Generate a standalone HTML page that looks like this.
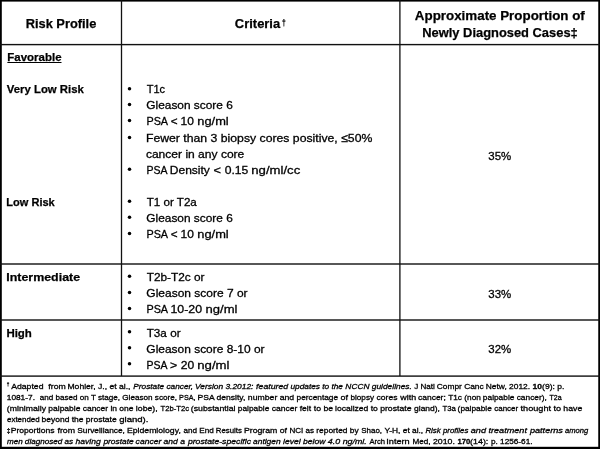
<!DOCTYPE html>
<html><head><meta charset='utf-8'><title>Risk Profile Table</title><style>
html,body{margin:0;padding:0;background:#fff;}
body{width:600px;height:449px;position:relative;overflow:hidden;font-family:"Liberation Sans",sans-serif;color:#000;}
#w{position:absolute;left:0;top:0;width:600px;height:449px;will-change:transform;}
.t{position:absolute;left:0;top:0;white-space:pre;transform-origin:0 0;line-height:1;}
svg{position:absolute;left:0;top:0;}
.u{text-decoration:underline;text-decoration-thickness:1px;text-underline-offset:1px;}
</style></head><body>
<svg width='600' height='449' viewBox='0 0 600 449'><g fill='#000'><rect x='0' y='0' width='600' height='1.6'/><rect x='0' y='446.8' width='600' height='2.2'/><rect x='0' y='0' width='1.8' height='449'/><rect x='598.25' y='0' width='1.75' height='449'/></g><g fill='#111'><rect x='0' y='43.90' width='600' height='1.4'/><rect x='0' y='263.30' width='600' height='1.4'/><rect x='0' y='319.30' width='600' height='1.4'/><rect x='0' y='375.40' width='600' height='1.4'/><rect x='120.85' y='0' width='1.3' height='376'/><rect x='399.25' y='0' width='1.3' height='376'/></g><g fill='#000'><circle cx='129.5' cy='88.70' r='1.75'/><circle cx='129.5' cy='104.60' r='1.75'/><circle cx='129.5' cy='120.50' r='1.75'/><circle cx='129.5' cy='137.40' r='1.75'/><circle cx='129.5' cy='169.30' r='1.75'/><circle cx='129.5' cy='201.30' r='1.75'/><circle cx='129.5' cy='217.30' r='1.75'/><circle cx='129.5' cy='233.50' r='1.75'/><circle cx='129.5' cy='276.30' r='1.75'/><circle cx='129.5' cy='292.50' r='1.75'/><circle cx='129.5' cy='308.60' r='1.75'/><circle cx='129.5' cy='331.80' r='1.75'/><circle cx='129.5' cy='347.80' r='1.75'/><circle cx='129.5' cy='363.80' r='1.75'/></g></svg>
<div id='w'>
<div class='t' style='font-size:13.3px;font-weight:700;-webkit-text-stroke:0.25px #000;transform:translate(25.70px,17px) scaleX(0.9650)'>Risk Profile</div>
<div class='t' style='font-size:13.3px;font-weight:700;-webkit-text-stroke:0.25px #000;transform:translate(234.86px,17px) scaleX(0.9725)'>Criteria</div>
<div class='t' style='font-size:9.5px;font-weight:700;-webkit-text-stroke:0.25px #000;transform:translate(281.89px,18px) scaleX(0.7059)'>&dagger;</div>
<div class='t' style='font-size:13.3px;font-weight:700;-webkit-text-stroke:0.25px #000;transform:translate(414.87px,9px) scaleX(1.0044)'>Approximate Proportion of</div>
<div class='t' style='font-size:13.3px;font-weight:700;-webkit-text-stroke:0.25px #000;transform:translate(422.27px,26px) scaleX(0.9693)'>Newly Diagnosed Cases&Dagger;</div>
<div class='t' style='font-size:11.5px;font-weight:700;-webkit-text-stroke:0.25px #000;transform:translate(7.35px,52px) scaleX(0.9968)'><span class='u'>Favorable</span></div>
<div class='t' style='font-size:11.5px;font-weight:700;-webkit-text-stroke:0.25px #000;transform:translate(6.85px,84px) scaleX(0.9866)'>Very Low Risk</div>
<div class='t' style='font-size:11.5px;font-weight:700;-webkit-text-stroke:0.25px #000;transform:translate(6.32px,197px) scaleX(0.9596)'>Low Risk</div>
<div class='t' style='font-size:11.5px;font-weight:700;-webkit-text-stroke:0.25px #000;transform:translate(6.25px,272px) scaleX(1.0800)'>Intermediate</div>
<div class='t' style='font-size:11.5px;font-weight:700;-webkit-text-stroke:0.25px #000;transform:translate(6.38px,328px) scaleX(0.9969)'>High</div>
<div class='t' style='font-size:11.5px;font-weight:400;-webkit-text-stroke:0.3px #000;transform:translate(146.73px,84px) scaleX(0.9579)'>T1c</div>
<div class='t' style='font-size:11.5px;font-weight:400;-webkit-text-stroke:0.3px #000;transform:translate(146.34px,100px) scaleX(1.0325)'>Gleason score 6</div>
<div class='t' style='font-size:11.5px;font-weight:400;-webkit-text-stroke:0.3px #000;transform:translate(145.92px,133px) scaleX(1.0641)'>Fewer than 3 biopsy cores positive, &le;50%</div>
<div class='t' style='font-size:11.5px;font-weight:400;-webkit-text-stroke:0.3px #000;transform:translate(145.89px,149px) scaleX(1.0474)'>cancer in any core</div>
<div class='t' style='font-size:11.5px;font-weight:400;-webkit-text-stroke:0.3px #000;transform:translate(146.72px,197px) scaleX(1.0090)'>T1 or T2a</div>
<div class='t' style='font-size:11.5px;font-weight:400;-webkit-text-stroke:0.3px #000;transform:translate(146.34px,213px) scaleX(1.0325)'>Gleason score 6</div>
<div class='t' style='font-size:11.5px;font-weight:400;-webkit-text-stroke:0.3px #000;transform:translate(146.72px,272px) scaleX(1.0281)'>T2b-T2c or</div>
<div class='t' style='font-size:11.5px;font-weight:400;-webkit-text-stroke:0.3px #000;transform:translate(146.33px,288px) scaleX(1.0422)'>Gleason score 7 or</div>
<div class='t' style='font-size:11.5px;font-weight:400;-webkit-text-stroke:0.3px #000;transform:translate(146.72px,328px) scaleX(1.0174)'>T3a or</div>
<div class='t' style='font-size:11.5px;font-weight:400;-webkit-text-stroke:0.3px #000;transform:translate(146.33px,344px) scaleX(1.0393)'>Gleason score 8-10 or</div>
<div class='t' style='font-size:11.5px;font-weight:400;-webkit-text-stroke:0.3px #000;transform:translate(488.33px,151px) scaleX(0.9956)'>35%</div>
<div class='t' style='font-size:11.5px;font-weight:400;-webkit-text-stroke:0.3px #000;transform:translate(488.33px,289px) scaleX(0.9956)'>33%</div>
<div class='t' style='font-size:11.5px;font-weight:400;-webkit-text-stroke:0.3px #000;transform:translate(488.33px,344px) scaleX(0.9956)'>32%</div>
<div class='t' style='font-size:5.0px;font-weight:700;-webkit-text-stroke:0.25px #000;transform:translate(6.77px,382px) scaleX(0.9263)'>&dagger;</div>
<div class='t' style='font-size:8.0px;font-weight:700;-webkit-text-stroke:0.25px #000;transform:translate(6.77px,427px) scaleX(0.8276)'>&Dagger;</div>
<div class='t' style='font-size:11.5px;font-weight:400;-webkit-text-stroke:0.3px #000;transform:translate(146.45px,116px) scaleX(0.9383)'>PSA </div>
<div class='t' style='font-size:11.5px;font-weight:400;-webkit-text-stroke:0.3px #000;transform:translate(170.77px,116px) scaleX(1.0180)'>&lt; </div>
<div class='t' style='font-size:11.5px;font-weight:400;-webkit-text-stroke:0.3px #000;transform:translate(180.57px,116px) scaleX(1.0437)'>10 </div>
<div class='t' style='font-size:11.5px;font-weight:400;-webkit-text-stroke:0.3px #000;transform:translate(197.30px,116px) scaleX(1.1163)'>ng/ml</div>
<div class='t' style='font-size:11.5px;font-weight:400;-webkit-text-stroke:0.3px #000;transform:translate(146.45px,229px) scaleX(0.9383)'>PSA </div>
<div class='t' style='font-size:11.5px;font-weight:400;-webkit-text-stroke:0.3px #000;transform:translate(170.77px,229px) scaleX(1.0180)'>&lt; </div>
<div class='t' style='font-size:11.5px;font-weight:400;-webkit-text-stroke:0.3px #000;transform:translate(180.57px,229px) scaleX(1.0437)'>10 </div>
<div class='t' style='font-size:11.5px;font-weight:400;-webkit-text-stroke:0.3px #000;transform:translate(197.30px,229px) scaleX(1.1163)'>ng/ml</div>
<div class='t' style='font-size:11.5px;font-weight:400;-webkit-text-stroke:0.3px #000;transform:translate(146.45px,304px) scaleX(0.9383)'>PSA </div>
<div class='t' style='font-size:11.5px;font-weight:400;-webkit-text-stroke:0.3px #000;transform:translate(170.48px,304px) scaleX(1.0733)'>10-20 </div>
<div class='t' style='font-size:11.5px;font-weight:400;-webkit-text-stroke:0.3px #000;transform:translate(205.58px,304px) scaleX(1.1333)'>ng/ml</div>
<div class='t' style='font-size:11.5px;font-weight:400;-webkit-text-stroke:0.3px #000;transform:translate(146.47px,360px) scaleX(0.9109)'>PSA </div>
<div class='t' style='font-size:11.5px;font-weight:400;-webkit-text-stroke:0.3px #000;transform:translate(170.10px,360px) scaleX(1.0784)'>&gt; </div>
<div class='t' style='font-size:11.5px;font-weight:400;-webkit-text-stroke:0.3px #000;transform:translate(180.75px,360px) scaleX(1.0500)'>20 </div>
<div class='t' style='font-size:11.5px;font-weight:400;-webkit-text-stroke:0.3px #000;transform:translate(197.28px,360px) scaleX(1.1460)'>ng/ml</div>
<div class='t' style='font-size:11.5px;font-weight:400;-webkit-text-stroke:0.3px #000;transform:translate(146.47px,165px) scaleX(0.9148)'>PSA </div>
<div class='t' style='font-size:11.5px;font-weight:400;-webkit-text-stroke:0.3px #000;transform:translate(169.79px,165px) scaleX(1.0446)'>Density </div>
<div class='t' style='font-size:11.5px;font-weight:400;-webkit-text-stroke:0.3px #000;transform:translate(213.58px,165px) scaleX(1.1087)'>&lt; </div>
<div class='t' style='font-size:11.5px;font-weight:400;-webkit-text-stroke:0.3px #000;transform:translate(224.74px,165px) scaleX(1.0556)'>0.15 </div>
<div class='t' style='font-size:11.5px;font-weight:400;-webkit-text-stroke:0.3px #000;transform:translate(251.29px,165px) scaleX(1.1429)'>ng/ml/cc</div>
<div class='t' style='font-size:8.0px;font-weight:400;-webkit-text-stroke:0.3px #000;transform:translate(11.14px,383px) scaleX(1.0860)'>Adapted&nbsp; from </div>
<div class='t' style='font-size:8.0px;font-weight:400;-webkit-text-stroke:0.3px #000;transform:translate(67.46px,383px) scaleX(1.0735)'>Mohler, J., et al., </div>
<div class='t' style='font-size:8.0px;font-weight:400;-webkit-text-stroke:0.3px #000;transform:translate(133.30px,383px) scaleX(1.0345)'><i>Prostate cancer, </i></div>
<div class='t' style='font-size:8.0px;font-weight:400;-webkit-text-stroke:0.3px #000;transform:translate(194.98px,383px) scaleX(1.0480)'><i>Version 3.2012: </i></div>
<div class='t' style='font-size:8.0px;font-weight:400;-webkit-text-stroke:0.3px #000;transform:translate(256.11px,383px) scaleX(1.0925)'><i>featured </i></div>
<div class='t' style='font-size:8.0px;font-weight:400;-webkit-text-stroke:0.3px #000;transform:translate(290.49px,383px) scaleX(1.0342)'><i>updates to the </i></div>
<div class='t' style='font-size:8.0px;font-weight:400;-webkit-text-stroke:0.3px #000;transform:translate(345.37px,383px) scaleX(1.0444)'><i>NCCN guidelines.</i> </div>
<div class='t' style='font-size:8.0px;font-weight:400;-webkit-text-stroke:0.3px #000;transform:translate(414.25px,383px) scaleX(1.0034)'>J Natl </div>
<div class='t' style='font-size:8.0px;font-weight:400;-webkit-text-stroke:0.3px #000;transform:translate(436.74px,383px) scaleX(1.0451)'>Compr Canc </div>
<div class='t' style='font-size:8.0px;font-weight:400;-webkit-text-stroke:0.3px #000;transform:translate(485.72px,383px) scaleX(1.0509)'>Netw, 2012. </div>
<div class='t' style='font-size:8.0px;font-weight:400;-webkit-text-stroke:0.3px #000;transform:translate(532.60px,383px) scaleX(1.0649)'><b>10</b>(9): p.</div>
<div class='t' style='font-size:8.0px;font-weight:400;-webkit-text-stroke:0.3px #000;transform:translate(6.76px,394px) scaleX(1.0387)'>1081-7.&nbsp; </div>
<div class='t' style='font-size:8.0px;font-weight:400;-webkit-text-stroke:0.3px #000;transform:translate(39.75px,394px) scaleX(1.0117)'>and based on T stage, </div>
<div class='t' style='font-size:8.0px;font-weight:400;-webkit-text-stroke:0.3px #000;transform:translate(122.25px,394px) scaleX(1.0173)'>Gleason score, </div>
<div class='t' style='font-size:8.0px;font-weight:400;-webkit-text-stroke:0.3px #000;transform:translate(179.05px,394px) scaleX(0.9045)'>PSA, </div>
<div class='t' style='font-size:8.0px;font-weight:400;-webkit-text-stroke:0.3px #000;transform:translate(197.47px,394px) scaleX(1.0691)'>PSA density, </div>
<div class='t' style='font-size:8.0px;font-weight:400;-webkit-text-stroke:0.3px #000;transform:translate(247.84px,394px) scaleX(1.0852)'>number and </div>
<div class='t' style='font-size:8.0px;font-weight:400;-webkit-text-stroke:0.3px #000;transform:translate(296.61px,394px) scaleX(1.0363)'>percentage </div>
<div class='t' style='font-size:8.0px;font-weight:400;-webkit-text-stroke:0.3px #000;transform:translate(340.58px,394px) scaleX(1.1228)'>of </div>
<div class='t' style='font-size:8.0px;font-weight:400;-webkit-text-stroke:0.3px #000;transform:translate(350.47px,394px) scaleX(1.0213)'>biopsy </div>
<div class='t' style='font-size:8.0px;font-weight:400;-webkit-text-stroke:0.3px #000;transform:translate(376.51px,394px) scaleX(1.0690)'>cores </div>
<div class='t' style='font-size:8.0px;font-weight:400;-webkit-text-stroke:0.3px #000;transform:translate(400.28px,394px) scaleX(1.1123)'>with </div>
<div class='t' style='font-size:8.0px;font-weight:400;-webkit-text-stroke:0.3px #000;transform:translate(418.09px,394px) scaleX(1.0538)'>cancer; </div>
<div class='t' style='font-size:8.0px;font-weight:400;-webkit-text-stroke:0.3px #000;transform:translate(448.22px,394px) scaleX(1.0341)'>T1c (non </div>
<div class='t' style='font-size:8.0px;font-weight:400;-webkit-text-stroke:0.3px #000;transform:translate(482.86px,394px) scaleX(1.0418)'>palpable cancer), </div>
<div class='t' style='font-size:8.0px;font-weight:400;-webkit-text-stroke:0.3px #000;transform:translate(549.50px,394px) scaleX(0.8750)'>T2a</div>
<div class='t' style='font-size:8.0px;font-weight:400;-webkit-text-stroke:0.3px #000;transform:translate(6.87px,405px) scaleX(1.0867)'>(minimally </div>
<div class='t' style='font-size:8.0px;font-weight:400;-webkit-text-stroke:0.3px #000;transform:translate(48.35px,405px) scaleX(1.0576)'>palpable cancer in one </div>
<div class='t' style='font-size:8.0px;font-weight:400;-webkit-text-stroke:0.3px #000;transform:translate(135.84px,405px) scaleX(1.0907)'>lobe), </div>
<div class='t' style='font-size:8.0px;font-weight:400;-webkit-text-stroke:0.3px #000;transform:translate(160.50px,405px) scaleX(0.9605)'>T2b-T2c </div>
<div class='t' style='font-size:8.0px;font-weight:400;-webkit-text-stroke:0.3px #000;transform:translate(190.84px,405px) scaleX(1.0895)'>(substantial </div>
<div class='t' style='font-size:8.0px;font-weight:400;-webkit-text-stroke:0.3px #000;transform:translate(237.86px,405px) scaleX(1.0390)'>palpable </div>
<div class='t' style='font-size:8.0px;font-weight:400;-webkit-text-stroke:0.3px #000;transform:translate(271.73px,405px) scaleX(1.0667)'>cancer felt </div>
<div class='t' style='font-size:8.0px;font-weight:400;-webkit-text-stroke:0.3px #000;transform:translate(313.75px,405px) scaleX(1.0867)'>to be </div>
<div class='t' style='font-size:8.0px;font-weight:400;-webkit-text-stroke:0.3px #000;transform:translate(335.10px,405px) scaleX(1.0675)'>localized to </div>
<div class='t' style='font-size:8.0px;font-weight:400;-webkit-text-stroke:0.3px #000;transform:translate(380.17px,405px) scaleX(1.0822)'>prostate </div>
<div class='t' style='font-size:8.0px;font-weight:400;-webkit-text-stroke:0.3px #000;transform:translate(414.09px,405px) scaleX(1.0567)'>gland), </div>
<div class='t' style='font-size:8.0px;font-weight:400;-webkit-text-stroke:0.3px #000;transform:translate(442.50px,405px) scaleX(0.9678)'>T3a </div>
<div class='t' style='font-size:8.0px;font-weight:400;-webkit-text-stroke:0.3px #000;transform:translate(457.61px,405px) scaleX(1.0387)'>(palpable </div>
<div class='t' style='font-size:8.0px;font-weight:400;-webkit-text-stroke:0.3px #000;transform:translate(494.25px,405px) scaleX(0.9949)'>cancer </div>
<div class='t' style='font-size:8.0px;font-weight:400;-webkit-text-stroke:0.3px #000;transform:translate(520.57px,405px) scaleX(1.1412)'>thought to </div>
<div class='t' style='font-size:8.0px;font-weight:400;-webkit-text-stroke:0.3px #000;transform:translate(563.34px,405px) scaleX(1.0896)'>have</div>
<div class='t' style='font-size:8.0px;font-weight:400;-webkit-text-stroke:0.3px #000;transform:translate(7.03px,416px) scaleX(0.9903)'>extended </div>
<div class='t' style='font-size:8.0px;font-weight:400;-webkit-text-stroke:0.3px #000;transform:translate(41.60px,416px) scaleX(1.0583)'>beyond the </div>
<div class='t' style='font-size:8.0px;font-weight:400;-webkit-text-stroke:0.3px #000;transform:translate(85.85px,416px) scaleX(1.0677)'>prostate </div>
<div class='t' style='font-size:8.0px;font-weight:400;-webkit-text-stroke:0.3px #000;transform:translate(119.20px,416px) scaleX(1.1958)'>gland).</div>
<div class='t' style='font-size:8.0px;font-weight:400;-webkit-text-stroke:0.3px #000;transform:translate(10.68px,427px) scaleX(1.0709)'>Proportions </div>
<div class='t' style='font-size:8.0px;font-weight:400;-webkit-text-stroke:0.3px #000;transform:translate(57.50px,427px) scaleX(1.0968)'>from </div>
<div class='t' style='font-size:8.0px;font-weight:400;-webkit-text-stroke:0.3px #000;transform:translate(77.24px,427px) scaleX(1.0410)'>Surveillance, </div>
<div class='t' style='font-size:8.0px;font-weight:400;-webkit-text-stroke:0.3px #000;transform:translate(126.96px,427px) scaleX(1.0840)'>Epidemiology, </div>
<div class='t' style='font-size:8.0px;font-weight:400;-webkit-text-stroke:0.3px #000;transform:translate(183.50px,427px) scaleX(1.0146)'>and End </div>
<div class='t' style='font-size:8.0px;font-weight:400;-webkit-text-stroke:0.3px #000;transform:translate(215.76px,427px) scaleX(0.9773)'>Results </div>
<div class='t' style='font-size:8.0px;font-weight:400;-webkit-text-stroke:0.3px #000;transform:translate(243.96px,427px) scaleX(1.0886)'>Program of </div>
<div class='t' style='font-size:8.0px;font-weight:400;-webkit-text-stroke:0.3px #000;transform:translate(289.50px,427px) scaleX(1.0011)'>NCI as </div>
<div class='t' style='font-size:8.0px;font-weight:400;-webkit-text-stroke:0.3px #000;transform:translate(316.25px,427px) scaleX(1.0491)'>reported by </div>
<div class='t' style='font-size:8.0px;font-weight:400;-webkit-text-stroke:0.3px #000;transform:translate(361.25px,427px) scaleX(0.9939)'>Shao, </div>
<div class='t' style='font-size:8.0px;font-weight:400;-webkit-text-stroke:0.3px #000;transform:translate(384.50px,427px) scaleX(1.0438)'>Y-H, et al., </div>
<div class='t' style='font-size:8.0px;font-weight:400;-webkit-text-stroke:0.3px #000;transform:translate(425.38px,427px) scaleX(0.9881)'><i>Risk profiles </i></div>
<div class='t' style='font-size:8.0px;font-weight:400;-webkit-text-stroke:0.3px #000;transform:translate(470.75px,427px) scaleX(1.1387)'><i>and treatment </i></div>
<div class='t' style='font-size:8.0px;font-weight:400;-webkit-text-stroke:0.3px #000;transform:translate(529.93px,427px) scaleX(1.1400)'><i>patterns </i></div>
<div class='t' style='font-size:8.0px;font-weight:400;-webkit-text-stroke:0.3px #000;transform:translate(565.00px,427px) scaleX(0.9490)'><i>among</i></div>
<div class='t' style='font-size:8.0px;font-weight:400;-webkit-text-stroke:0.3px #000;transform:translate(7.00px,438px) scaleX(1.0114)'><i>men </i></div>
<div class='t' style='font-size:8.0px;font-weight:400;-webkit-text-stroke:0.3px #000;transform:translate(24.87px,438px) scaleX(1.0135)'><i>diagnosed as </i></div>
<div class='t' style='font-size:8.0px;font-weight:400;-webkit-text-stroke:0.3px #000;transform:translate(75.50px,438px) scaleX(1.0660)'><i>having </i></div>
<div class='t' style='font-size:8.0px;font-weight:400;-webkit-text-stroke:0.3px #000;transform:translate(103.39px,438px) scaleX(1.0517)'><i>prostate </i></div>
<div class='t' style='font-size:8.0px;font-weight:400;-webkit-text-stroke:0.3px #000;transform:translate(135.62px,438px) scaleX(1.0674)'><i>cancer and a </i></div>
<div class='t' style='font-size:8.0px;font-weight:400;-webkit-text-stroke:0.3px #000;transform:translate(187.91px,438px) scaleX(1.0832)'><i>prostate-specific </i></div>
<div class='t' style='font-size:8.0px;font-weight:400;-webkit-text-stroke:0.3px #000;transform:translate(253.00px,438px) scaleX(1.0538)'><i>antigen </i></div>
<div class='t' style='font-size:8.0px;font-weight:400;-webkit-text-stroke:0.3px #000;transform:translate(283.00px,438px) scaleX(1.0714)'><i>level below </i></div>
<div class='t' style='font-size:8.0px;font-weight:400;-webkit-text-stroke:0.3px #000;transform:translate(327.86px,438px) scaleX(1.1077)'><i>4.0 ng/ml.</i> </div>
<div class='t' style='font-size:8.0px;font-weight:400;-webkit-text-stroke:0.3px #000;transform:translate(369.39px,438px) scaleX(0.9533)'>Arch </div>
<div class='t' style='font-size:8.0px;font-weight:400;-webkit-text-stroke:0.3px #000;transform:translate(386.28px,438px) scaleX(1.1460)'>Intern </div>
<div class='t' style='font-size:8.0px;font-weight:400;-webkit-text-stroke:0.3px #000;transform:translate(412.49px,438px) scaleX(1.0142)'>Med, </div>
<div class='t' style='font-size:8.0px;font-weight:400;-webkit-text-stroke:0.3px #000;transform:translate(432.94px,438px) scaleX(1.0966)'>2010. </div>
<div class='t' style='font-size:8.0px;font-weight:400;-webkit-text-stroke:0.3px #000;transform:translate(457.41px,438px) scaleX(0.9581)'><b>170</b></div>
<div class='t' style='font-size:8.0px;font-weight:400;-webkit-text-stroke:0.3px #000;transform:translate(470.08px,438px) scaleX(1.1086)'>(14): </div>
<div class='t' style='font-size:8.0px;font-weight:400;-webkit-text-stroke:0.3px #000;transform:translate(490.89px,438px) scaleX(1.0297)'>p. 1256-61.</div>
</div></body></html>
